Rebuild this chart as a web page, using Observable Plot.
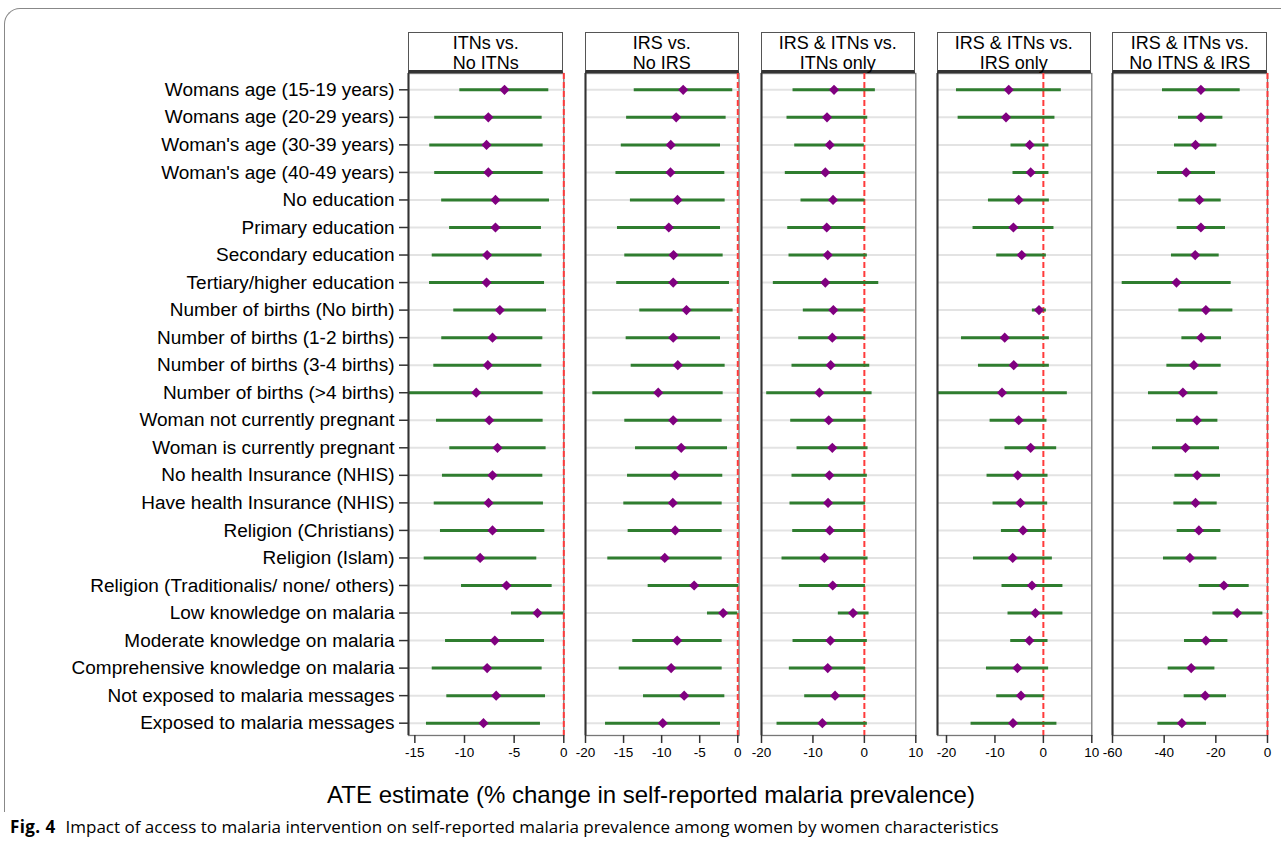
<!DOCTYPE html>
<html><head><meta charset="utf-8">
<script src="https://cdn.jsdelivr.net/npm/d3@7"></script>
<script src="https://cdn.jsdelivr.net/npm/@observablehq/plot@0.6"></script>
<style>
body{margin:0;background:#fff;}
#wrap{position:relative;width:1281px;height:845px;overflow:hidden;font-family:"Liberation Sans",Arial,sans-serif;color:#000;}
.hdr{position:absolute;top:32px;height:41px;box-sizing:border-box;border:1.5px solid #555;border-bottom:3px solid #333;text-align:center;font-size:18px;line-height:20px;padding-top:0;white-space:nowrap;}
.pnl{position:absolute;top:0;}
#outer{position:absolute;left:4px;top:8px;width:1300px;height:804px;border-top:1.5px solid #888;border-left:1.5px solid #888;border-top-left-radius:16px;box-sizing:border-box;}
#xtitle{position:absolute;top:781px;left:651px;transform:translateX(-50%);font-size:24px;white-space:nowrap;}
#caption{position:absolute;top:815px;left:10px;font-family:"Open Sans","Noto Sans",sans-serif;font-size:17px;white-space:nowrap;}
#caption b{margin-right:10px;letter-spacing:0.4px;}
</style></head>
<body><div id="wrap"><div id="outer"></div></div>
<script>
// ---- data ----
const labels = [
  "Womans age (15-19 years)", "Womans age (20-29 years)", "Woman's age (30-39 years)", "Woman's age (40-49 years)",
  "No education", "Primary education", "Secondary education", "Tertiary/higher education",
  "Number of births (No birth)", "Number of births (1-2 births)", "Number of births (3-4 births)", "Number of births (>4 births)",
  "Woman not currently pregnant", "Woman is currently pregnant", "No health Insurance (NHIS)", "Have health Insurance (NHIS)",
  "Religion (Christians)", "Religion (Islam)", "Religion (Traditionalis/ none/ others)", "Low knowledge on malaria",
  "Moderate knowledge on malaria", "Comprehensive knowledge on malaria", "Not exposed to malaria messages", "Exposed to malaria messages"
];
const headers = ["ITNs vs.\nNo ITNs", "IRS vs.\nNo IRS", "IRS & ITNs vs.\nITNs only", "IRS & ITNs vs.\nIRS only", "IRS & ITNs vs.\nNo ITNS & IRS"];

const itnEst = [-5.97,-7.6,-7.78,-7.6,-6.88,-6.88,-7.72,-7.78,-6.44,-7.18,-7.65,-8.82,-7.51,-6.68,-7.18,-7.58,-7.18,-8.42,-5.77,-2.65,-6.95,-7.72,-6.81,-8.09];
const itnLo  = [-10.47,-13.0,-13.5,-13.0,-12.3,-11.5,-13.25,-13.52,-11.08,-12.29,-13.09,-15.6,-12.82,-11.48,-12.22,-13.05,-12.42,-14.06,-10.3,-5.27,-11.91,-13.25,-11.78,-13.83];
const itnHi  = [-1.51,-2.18,-2.08,-2.08,-1.44,-2.25,-2.18,-1.94,-1.74,-2.11,-2.21,-2.08,-2.08,-1.78,-2.11,-2.05,-1.91,-2.72,-1.17,0,-1.94,-2.18,-1.84,-2.35];

const irsEst = [-7.17,-8.09,-8.8,-8.84,-7.92,-9.06,-8.44,-8.48,-6.74,-8.48,-7.88,-10.45,-8.48,-7.43,-8.27,-8.53,-8.22,-9.59,-5.73,-1.92,-7.96,-8.75,-7.04,-9.85];
const irsLo  = [-13.6,-14.6,-15.3,-16.0,-14.1,-15.8,-14.84,-15.9,-12.87,-14.66,-14.0,-19.04,-14.84,-13.43,-14.48,-14.97,-14.4,-17.07,-11.77,-3.98,-13.79,-15.57,-12.38,-17.37];
const irsHi  = [-0.66,-1.53,-2.27,-1.7,-1.66,-2.27,-1.92,-1.09,-0.61,-2.27,-1.66,-1.92,-2.05,-1.35,-1.97,-2.05,-2.05,-2.05,0.13,0,-2.05,-2.05,-1.7,-2.27];

const bothVsItnEst = [-5.9,-7.26,-6.73,-7.59,-6.09,-7.32,-7.12,-7.59,-6.03,-6.23,-6.54,-8.75,-6.93,-6.23,-6.81,-7.06,-6.73,-7.78,-6.15,-2.2,-6.61,-7.12,-5.7,-8.17];
const bothVsItnLo  = [-13.87,-15.04,-13.54,-15.37,-12.32,-14.9,-14.65,-17.7,-11.87,-12.76,-14.07,-18.99,-14.32,-13.09,-14.07,-14.46,-13.93,-16.01,-12.64,-5.06,-13.87,-14.59,-11.6,-16.98];
const bothVsItnHi  = [2.14,0.66,0,0.13,0.13,0.13,0.58,2.8,0,0.13,1.05,1.5,0.33,0.72,0.58,0.2,0.2,0.72,0.2,0.91,0.58,0.2,0.2,0.58];

const bothVsIrsEst = [-7.15,-7.71,-2.82,-2.62,-5.09,-6.19,-4.47,null,-0.9,-7.98,-6.12,-8.54,-5.09,-2.62,-5.29,-4.74,-4.2,-6.33,-2.35,-1.65,-2.89,-5.36,-4.62,-6.27];
const bothVsIrsLo  = [-17.94,-17.6,-6.68,-6.27,-11.34,-14.52,-9.63,null,-2.27,-16.9,-13.4,-21.65,-11.0,-7.92,-11.63,-10.39,-8.66,-14.43,-8.54,-7.3,-6.74,-11.75,-9.63,-14.93];
const bothVsIrsHi  = [3.71,2.39,1.15,1.15,1.24,2.19,0.62,null,0.62,1.24,1.24,4.95,0.75,2.75,0.96,0.89,0.62,1.86,4.04,4.04,0.96,1.09,0.13,2.8];

const bothVsNoneEst = [-25.78,-25.78,-27.87,-31.47,-26.33,-25.78,-27.99,-35.23,-23.85,-25.67,-28.5,-32.75,-27.33,-31.75,-27.22,-27.87,-26.56,-30.04,-16.88,-11.73,-23.85,-29.54,-24.12,-33.14];
const bothVsNoneLo  = [-40.65,-34.45,-36.0,-42.58,-34.3,-34.96,-37.17,-56.25,-34.3,-33.14,-38.95,-46.07,-35.23,-44.52,-35.85,-36.24,-34.96,-40.26,-26.44,-21.14,-32.13,-38.44,-32.25,-42.43];
const bothVsNoneHi  = [-10.57,-17.27,-19.59,-20.13,-17.92,-16.26,-18.7,-14.05,-13.4,-17.8,-17.92,-19.2,-19.2,-18.58,-18.2,-19.47,-18.04,-19.59,-7.08,-1.78,-15.33,-20.36,-15.87,-23.62];

const tickSets = [[-15,-10,-5,0],[-20,-15,-10,-5,0],[-20,-10,0,10],[-20,-10,0,10],[-60,-40,-20,0]];

// ---- layout ----
const panels = [
  {est: itnEst, lo: itnLo, hi: itnHi, left: 408, right: 563.3, domain: [-15.64, 0]},
  {est: irsEst, lo: irsLo, hi: irsHi, left: 585, right: 738.5, domain: [-20, 0.16]},
  {est: bothVsItnEst, lo: bothVsItnLo, hi: bothVsItnHi, left: 760.7, right: 915, domain: [-20, 10]},
  {est: bothVsIrsEst, lo: bothVsIrsLo, hi: bothVsIrsHi, left: 936.7, right: 1091, domain: [-21.86, 10]},
  {est: bothVsNoneEst, lo: bothVsNoneLo, hi: bothVsNoneHi, left: 1112.3, right: 1267.3, domain: [-60, 0]}
];

const wrap = document.getElementById("wrap");
const H = 775, TOP = 73, BOTTOM = 735;
const idx = labels.map((_, i) => i);

panels.forEach((p, k) => {
  const rows = labels.map((l, i) => ({i, est: p.est[i], lo: p.lo[i], hi: p.hi[i]})).filter(d => d.est != null);
  const first = k === 0;
  const ml = first ? p.left : 14;
  const mr = 16;
  const w = ml + (p.right - p.left) + mr;
  const marks = [
    Plot.ruleY(idx, {y: d => d, stroke: "#e3e3e3", strokeWidth: 2}),
    Plot.frame({stroke: "#777", strokeWidth: 1.3}),
    Plot.ruleX([0], {stroke: "#ff3b3b", strokeWidth: 2, strokeDasharray: "6,3"}),
    Plot.ruleY(rows, {y: "i", x1: "lo", x2: "hi", stroke: "#2f7d2f", strokeWidth: 3, clip: true}),
    Plot.dot(rows, {x: "est", y: "i", symbol: "diamond2", r: 4.6, fill: "#800080", stroke: "none"}),
    Plot.ruleX([p.domain[0]], {stroke: "#333", strokeWidth: 2}),
    Plot.axisX({ticks: tickSets[k], tickFormat: d => String(d), tickSize: 8, tickPadding: 4, fontSize: 13.5, label: null, stroke: "#333", strokeWidth: 1.5})
  ];
  if (first) marks.push(Plot.axisY({ticks: idx, tickFormat: i => labels[i], tickSize: 9, tickPadding: 5, fontSize: 19, label: null, stroke: "#333", strokeWidth: 1.5}));
  const svg = Plot.plot({
    width: w, height: H,
    marginLeft: ml, marginRight: mr, marginTop: TOP, marginBottom: H - BOTTOM,
    style: {background: "transparent", overflow: "visible", fontFamily: "Liberation Sans, Arial, sans-serif", color: "#000"},
    x: {domain: p.domain},
    y: {type: "linear", domain: [0, labels.length - 1], range: [89.3, 722.7], axis: first ? undefined : null},
    marks
  });
  svg.classList.add("pnl");
  svg.style.left = (p.left - ml) + "px";
  wrap.appendChild(svg);

  const h = document.createElement("div");
  h.className = "hdr";
  h.style.left = p.left + "px";
  h.style.width = (p.right - p.left) + "px";
  headers[k].split("\n").forEach((t, j) => {
    if (j) h.appendChild(document.createElement("br"));
    h.appendChild(document.createTextNode(t));
  });
  wrap.appendChild(h);
});

const xt = document.createElement("div");
xt.id = "xtitle";
xt.textContent = "ATE estimate (% change in self-reported malaria prevalence)";
wrap.appendChild(xt);

const cap = document.createElement("div");
cap.id = "caption";
cap.innerHTML = "<b>Fig. 4</b>Impact of access to malaria intervention on self-reported malaria prevalence among women by women characteristics";
wrap.appendChild(cap);
</script>
</body></html>
